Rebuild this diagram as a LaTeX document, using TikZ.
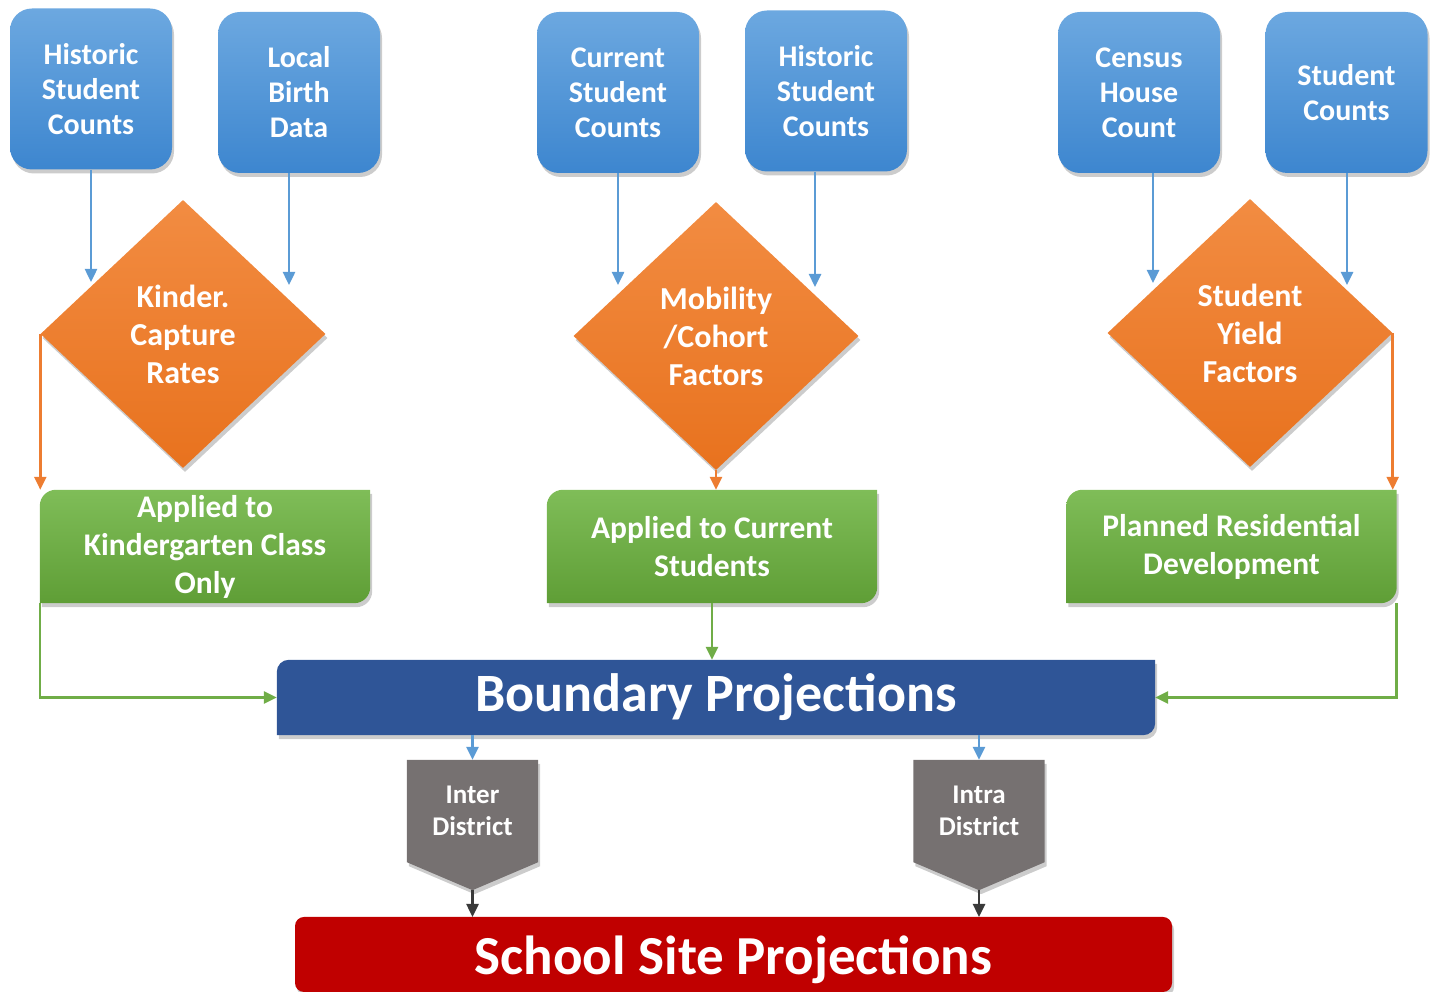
\documentclass[tikz,border=0pt]{standalone}
\usepackage{fontspec}
\setmainfont{Carlito}
\usetikzlibrary{shapes.geometric,arrows.meta,shadows,calc}
\pgfdeclarelayer{bg}
\pgfsetlayers{bg,main}
\definecolor{bluetop}{HTML}{6CA8E0}
\definecolor{bluebot}{HTML}{3D86CF}
\definecolor{orangetop}{HTML}{F28C42}
\definecolor{orangebot}{HTML}{E8721E}
\definecolor{greentop}{HTML}{7FBD58}
\definecolor{greenbot}{HTML}{5F9E36}
\definecolor{navy}{HTML}{2F5597}
\definecolor{darkred}{HTML}{C00000}
\definecolor{slate}{HTML}{767171}
\definecolor{arrblue}{HTML}{5B9BD5}
\definecolor{arrorange}{HTML}{ED7D31}
\definecolor{arrgreen}{HTML}{70AD47}
\definecolor{arrdark}{HTML}{3A3A3A}
\begin{document}
\begin{tikzpicture}[x=1pt,y=1pt,
  shd/.style={drop shadow={shadow xshift=2pt,shadow yshift=-4pt,opacity=0.2,fill=black}},
  srcbox/.style={rectangle,rounded corners=22pt,minimum width=162pt,minimum height=161pt,
    top color=bluetop,bottom color=bluebot,text=white,align=center,
    font=\bfseries\fontsize{30}{35}\selectfont,shd},
  decbox/.style={diamond,inner sep=0pt,minimum width=285pt,minimum height=268pt,
    top color=orangetop,bottom color=orangebot,text=white,align=center,
    font=\bfseries\fontsize{32}{38}\selectfont,shd},
  appbox/.style={rectangle,minimum width=330pt,minimum height=113pt,text=white,align=center,
    font=\bfseries\fontsize{31.5}{38}\selectfont},
  greenfill/.style={top color=greentop,bottom color=greenbot,shd},
  distbox/.style={rectangle,minimum width=131pt,minimum height=102pt,text=white,align=center,
    font=\bfseries\fontsize{27}{32}\selectfont},
  bigbar/.style={rectangle,minimum width=878pt,minimum height=75pt,text=white,
    font=\bfseries\fontsize{54}{60}\selectfont},
  arr/.style={line width=2.5pt,-{Triangle[length=13pt,width=12pt]}},
  barr/.style={arr,draw=arrblue},
  oarr/.style={arr,draw=arrorange},
  garr/.style={arr,draw=arrgreen},
  karr/.style={arr,draw=arrdark}
]
\useasboundingbox (0,0) rectangle (1435,992);

% source boxes
\node[srcbox] (B1) at (91,903) {Historic\\Student\\Counts};
\node[srcbox] (B2) at (299,899.5) {Local\\Birth\\Data};
\node[srcbox] (B3) at (618,899.5) {Current\\Student\\Counts};
\node[srcbox] (B4) at (826,901) {Historic\\Student\\Counts};
\node[srcbox] (B5) at (1139,899.5) {Census\\House\\Count};
\node[srcbox] (B6) at (1346.5,899.5) {Student\\Counts};

% decisions
\node[decbox] (D1) at (183,658) {Kinder.\\Capture\\Rates};
\node[decbox] (D2) at (716,656) {Mobility\\/Cohort\\Factors};
\node[decbox] (D3) at (1250,659) {Student\\Yield\\Factors};

% applied boxes
\node[appbox] (G1) at (205,445.5) {Applied to\\Kindergarten Class\\Only};
\node[appbox] (G2) at (712,445.5) {Applied to Current\\Students};
\node[appbox] (G3) at (1231.5,445.5) {Planned Residential\\Development};

% boundary bar
\node[bigbar] (bar) at (716,294.5) {Boundary Projections};

% district boxes
\node[distbox] (inter) at (472.5,181) {Inter\\District};
\node[distbox] (intra) at (979,181) {Intra\\District};
\coordinate (interTip) at ($(inter.south)+(0,-28)$);
\coordinate (intraTip) at ($(intra.south)+(0,-28)$);

% school bar
\node[bigbar,minimum width=877pt,yshift=-5pt,font=\bfseries\fontsize{55}{60}\selectfont] (school) at (733.5,37.5) {School Site Projections};

\begin{pgfonlayer}{bg}
  \foreach \n in {G1,G2,G3}{
    \path[greenfill] (\n.south west) -- ($(\n.north west)+(0,-16)$)
      arc[start angle=180,end angle=90,radius=16] -- (\n.north east)
      -- ($(\n.south east)+(0,16)$) arc[start angle=0,end angle=-90,radius=16] -- cycle;
  }
  \path[fill=navy,shd] (bar.south west) -- ($(bar.north west)+(0,-12)$)
      arc[start angle=180,end angle=90,radius=12] -- (bar.north east)
      -- ($(bar.south east)+(0,12)$) arc[start angle=0,end angle=-90,radius=12] -- cycle;
  \path[fill=darkred,shd,rounded corners=9pt] (733.5-438.5,0) rectangle (733.5+438.5,75);
  \foreach \n/\t in {inter/interTip,intra/intraTip}{
    \path[fill=slate,shd] (\n.north west) -- (\n.north east) -- (\n.south east)
      -- (\t) -- (\n.south west) -- cycle;
  }
\end{pgfonlayer}

% arrow end points on the diamonds
\coordinate (e1) at (91,710);
\coordinate (e2) at (289,707);
\coordinate (e3) at (618,707);
\coordinate (e4) at (815,705);
\coordinate (e5) at (1153,709);
\coordinate (e6) at (1347,707);

\draw[barr] (B1.south) -- (e1);
\draw[barr] (B2.south -| e2) -- (e2);
\draw[barr] (B3.south) -- (e3);
\draw[barr] (B4.south -| e4) -- (e4);
\draw[barr] (B5.south -| e5) -- (e5);
\draw[barr] (B6.south -| e6) -- (e6);

\draw[oarr] (D1.west) -- (D1.west |- G1.north);
\draw[oarr] (D2.south) -- (D2.south |- G2.north);
\draw[oarr] (D3.east) -- (D3.east |- G3.north);

\draw[garr] (G1.south west) |- (bar.west);
\draw[garr] (G2.south) -- (G2.south |- bar.north);
\draw[garr] (G3.south east) |- (bar.east);

\draw[barr] (bar.south -| inter.north) -- (inter.north);
\draw[barr] (bar.south -| intra.north) -- (intra.north);
\draw[karr] (interTip) -- (interTip |- 0,75);
\draw[karr] (intraTip) -- (intraTip |- 0,75);
\end{tikzpicture}
\end{document}
